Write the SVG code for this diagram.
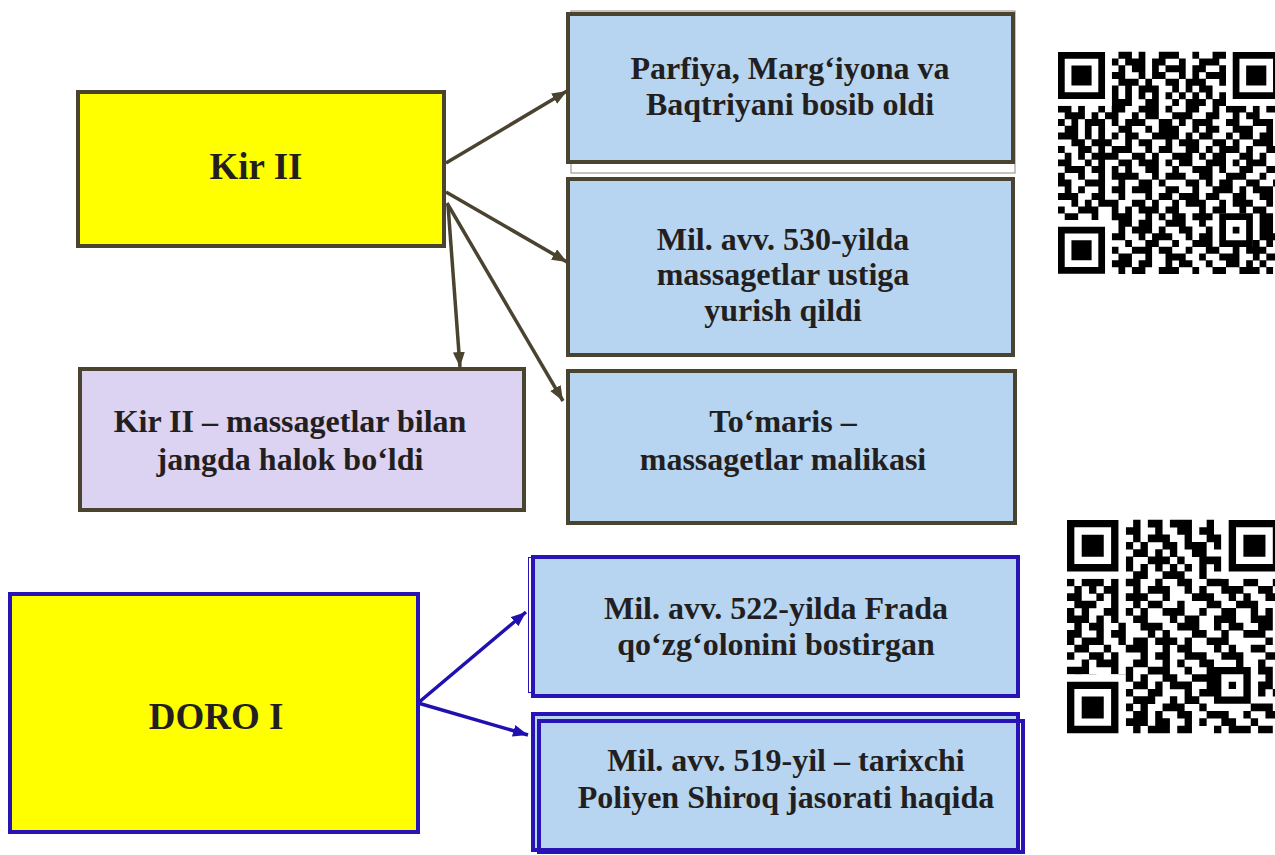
<svg xmlns="http://www.w3.org/2000/svg" width="1275" height="855" viewBox="0 0 1275 855">
<style>
.t{font-family:"Liberation Serif","Times New Roman",serif;font-weight:bold;fill:#231f20;text-anchor:middle}
.s{font-size:32px}
.big{font-size:37px}
.ob{stroke:#4a4330;stroke-width:4}
.bb{stroke:#2814b4;stroke-width:4;fill:none}
.ca{stroke:#4a4330;stroke-width:3.5;fill:none}
.cb{stroke:#2010b0;stroke-width:3.5;fill:none}
.qr{stroke:#000;stroke-width:1.04;fill:none}
</style>
<defs>
<marker id="ah" markerUnits="userSpaceOnUse" markerWidth="16" markerHeight="12" refX="15" refY="6" orient="auto"><path d="M0 0L15 6L0 12z" fill="#4a4330"/></marker>
<marker id="bh" markerUnits="userSpaceOnUse" markerWidth="16" markerHeight="12" refX="15" refY="6" orient="auto"><path d="M0 0L15 6L0 12z" fill="#2010b0"/></marker>
</defs>
<rect width="1275" height="855" fill="#fff"/>

<g id="connectors">
<path class="ca" marker-end="url(#ah)" d="M446 163L567 91"/>
<path class="ca" marker-end="url(#ah)" d="M446 192L567 262"/>
<path class="ca" marker-end="url(#ah)" d="M447 203L563 401"/>
<path class="ca" marker-end="url(#ah)" d="M448 205L460 367"/>
<path class="cb" marker-end="url(#bh)" d="M418 703L526 612"/>
<path class="cb" marker-end="url(#bh)" d="M418 703L528 735"/>
</g>

<g id="kir">
<rect class="ob" x="78" y="92" width="366" height="154" fill="#ffff00"/>
<text class="t big" x="256" y="179">Kir II</text>
</g>

<g id="parfiya">
<rect x="571" y="11" width="444" height="162" fill="none" stroke="#8c8878" stroke-width="1"/>
<rect class="ob" x="568" y="14" width="445" height="148" fill="#b7d5f0"/>
<text class="t s" x="790" y="79">Parfiya, Marg‘iyona va</text>
<text class="t s" x="790" y="115">Baqtriyani bosib oldi</text>
</g>

<g id="yurish">
<rect class="ob" x="568" y="179" width="445" height="176" fill="#b7d5f0"/>
<text class="t s" x="783" y="250">Mil. avv. 530-yilda</text>
<text class="t s" x="783" y="285">massagetlar ustiga</text>
<text class="t s" x="783" y="321">yurish qildi</text>
</g>

<g id="tomaris">
<rect class="ob" x="568" y="371" width="447" height="152" fill="#b7d5f0"/>
<text class="t s" x="783" y="432">To‘maris –</text>
<text class="t s" x="783" y="470">massagetlar malikasi</text>
</g>

<g id="halok">
<rect class="ob" x="80" y="369" width="444" height="141" fill="#dcd2f2"/>
<text class="t s" x="290" y="432">Kir II – massagetlar bilan</text>
<text class="t s" x="290" y="470">jangda halok bo‘ldi</text>
</g>

<g id="doro">
<rect x="10" y="594" width="408" height="238" fill="#ffff00" stroke="#2814b4" stroke-width="4"/>
<text class="t" style="font-size:37px" x="216" y="729">DORO I</text>
</g>

<g id="frada">
<rect x="528.5" y="557.5" width="486" height="135" fill="none" stroke="#2814b4" stroke-width="1"/>
<rect class="bb" x="533" y="557" width="485" height="139" style="fill:#b7d5f0"/>
<text class="t s" x="776" y="619">Mil. avv. 522-yilda Frada</text>
<text class="t s" x="776" y="655">qo‘zg‘olonini bostirgan</text>
</g>

<g id="shiroq">
<rect class="bb" x="533" y="714" width="485" height="136" style="fill:#b7d5f0"/>
<rect class="bb" x="539" y="721" width="484" height="131"/>
<text class="t s" x="786" y="771">Mil. avv. 519-yil – tarixchi</text>
<text class="t s" x="786" y="808">Poliyen Shiroq jasorati haqida</text>
</g>

<g id="qr1" transform="translate(1058 52) scale(6.72)">
<path class="qr" d="M9 0.5h2M12 0.5h1M15 0.5h3M20 0.5h1M23 0.5h2M8 1.5h1M10 1.5h3M14 1.5h2M18 1.5h1M21 1.5h3M9 2.5h1M11 2.5h2M14 2.5h1M16 2.5h3M20 2.5h2M24 2.5h1M8 3.5h2M12 3.5h1M14 3.5h2M18 3.5h1M20 3.5h1M22 3.5h3M9 4.5h3M13 4.5h1M16 4.5h2M19 4.5h3M24 4.5h1M8 5.5h1M10 5.5h1M12 5.5h3M17 5.5h1M19 5.5h1M21 5.5h2M8 6.5h1M10 6.5h1M12 6.5h1M14 6.5h1M16 6.5h1M18 6.5h1M20 6.5h1M22 6.5h1M24 6.5h1M8 7.5h3M13 7.5h2M17 7.5h1M19 7.5h3M23 7.5h2M0 8.5h2M3 8.5h1M6 8.5h1M8 8.5h2M12 8.5h3M16 8.5h1M19 8.5h2M23 8.5h1M25 8.5h3M29 8.5h1M31 8.5h2M1 9.5h3M5 9.5h1M7 9.5h2M11 9.5h1M13 9.5h2M17 9.5h3M22 9.5h2M26 9.5h1M28 9.5h2M0 10.5h1M2 10.5h1M4 10.5h3M8 10.5h1M10 10.5h3M15 10.5h2M18 10.5h1M20 10.5h3M25 10.5h2M29 10.5h3M1 11.5h2M4 11.5h1M6 11.5h1M9 11.5h2M13 11.5h1M15 11.5h3M20 11.5h1M22 11.5h2M26 11.5h3M31 11.5h1M0 12.5h3M4 12.5h1M6 12.5h1M8 12.5h1M10 12.5h2M14 12.5h4M19 12.5h1M21 12.5h2M25 12.5h1M27 12.5h2M30 12.5h2M2 13.5h2M5 13.5h3M10 13.5h1M12 13.5h2M16 13.5h1M18 13.5h3M23 13.5h2M26 13.5h1M29 13.5h3M0 14.5h1M3 14.5h2M6 14.5h1M8 14.5h3M13 14.5h1M15 14.5h2M19 14.5h2M22 14.5h1M24 14.5h3M28 14.5h1M31 14.5h2M1 15.5h1M3 15.5h1M5 15.5h4M11 15.5h2M14 15.5h1M17 15.5h3M21 15.5h1M23 15.5h2M27 15.5h2M30 15.5h1M0 16.5h2M4 16.5h1M6 16.5h1M9 16.5h2M12 16.5h3M16 16.5h1M18 16.5h2M22 16.5h3M26 16.5h1M28 16.5h3M1 17.5h3M5 17.5h2M8 17.5h1M10 17.5h1M13 17.5h2M17 17.5h1M20 17.5h3M24 17.5h1M27 17.5h2M31 17.5h2M0 18.5h1M3 18.5h1M6 18.5h1M8 18.5h4M14 18.5h1M16 18.5h3M21 18.5h2M25 18.5h3M30 18.5h1M0 19.5h2M4 19.5h3M9 19.5h1M12 19.5h2M15 19.5h1M19 19.5h2M22 19.5h1M24 19.5h2M28 19.5h2M32 19.5h1M1 20.5h1M3 20.5h1M6 20.5h1M8 20.5h2M11 20.5h3M16 20.5h2M20 20.5h1M23 20.5h3M27 20.5h1M29 20.5h3M0 21.5h3M5 21.5h2M9 21.5h1M13 21.5h1M15 21.5h2M18 21.5h3M22 21.5h2M26 21.5h2M30 21.5h2M2 22.5h1M4 22.5h1M6 22.5h3M11 22.5h2M14 22.5h1M17 22.5h1M19 22.5h3M24 22.5h1M26 22.5h3M31 22.5h1M0 23.5h1M3 23.5h3M8 23.5h1M10 23.5h1M12 23.5h3M16 23.5h2M21 23.5h1M23 23.5h2M27 23.5h1M29 23.5h2M1 24.5h2M5 24.5h1M8 24.5h3M13 24.5h1M15 24.5h1M17 24.5h2M20 24.5h3M30 24.5h2M9 25.5h2M12 25.5h2M16 25.5h3M21 25.5h1M30 25.5h2M9 26.5h1M11 26.5h3M15 26.5h1M18 26.5h2M22 26.5h1M30 26.5h2M8 27.5h2M12 27.5h1M14 27.5h3M19 27.5h1M21 27.5h2M30 27.5h3M10 28.5h1M13 28.5h2M17 28.5h1M20 28.5h3M29 28.5h1M31 28.5h1M8 29.5h1M11 29.5h3M15 29.5h2M19 29.5h1M22 29.5h2M26 29.5h1M28 29.5h3M9 30.5h2M13 30.5h1M16 30.5h3M21 30.5h1M24 30.5h3M29 30.5h1M31 30.5h2M8 31.5h3M12 31.5h2M16 31.5h1M18 31.5h2M22 31.5h1M25 31.5h2M28 31.5h1M30 31.5h1M9 32.5h1M11 32.5h2M15 32.5h3M20 32.5h1M23 32.5h2M27 32.5h3M31 32.5h1"/>
<path fill="#fff" d="M0 0h8v8h-8zM25 0h8v8h-8zM0 25h8v8h-8z"/>
<path fill="#000" fill-rule="evenodd" d="M0 0h7v7h-7zM1 1v5h5v-5zM2 2h3v3h-3zM26 0h7v7h-7zM27 1v5h5v-5zM28 2h3v3h-3zM0 26h7v7h-7zM1 27v5h5v-5zM2 28h3v3h-3zM24 24h5v5h-5zM25 25v3h3v-3zM26 26h1v1h-1z"/>
</g>

<g id="qr2" transform="translate(1067 520) scale(7.35)">
<path class="qr" d="M9 0.5h1M11 0.5h2M14 0.5h3M19 0.5h1M8 1.5h2M12 1.5h1M15 1.5h2M18 1.5h2M9 2.5h1M11 2.5h3M16 2.5h1M19 2.5h2M8 3.5h1M10 3.5h1M13 3.5h2M16 3.5h3M20 3.5h1M9 4.5h2M12 4.5h1M14 4.5h1M17 4.5h2M8 5.5h1M11 5.5h3M15 5.5h1M18 5.5h3M8 6.5h1M10 6.5h1M12 6.5h1M14 6.5h1M16 6.5h1M18 6.5h1M20 6.5h1M9 7.5h2M13 7.5h3M18 7.5h1M0 8.5h1M2 8.5h3M6 8.5h1M8 8.5h2M12 8.5h1M15 8.5h2M19 8.5h3M24 8.5h2M28 8.5h1M1 9.5h1M3 9.5h1M5 9.5h2M9 9.5h1M11 9.5h3M16 9.5h1M18 9.5h1M21 9.5h3M26 9.5h2M0 10.5h2M4 10.5h1M6 10.5h1M8 10.5h3M13 10.5h1M17 10.5h3M22 10.5h1M24 10.5h1M27 10.5h2M1 11.5h3M6 11.5h1M9 11.5h1M11 11.5h2M15 11.5h1M19 11.5h2M23 11.5h3M0 12.5h1M2 12.5h1M5 12.5h2M8 12.5h1M10 12.5h1M13 12.5h3M18 12.5h1M21 12.5h2M25 12.5h1M27 12.5h1M0 13.5h3M4 13.5h1M6 13.5h1M9 13.5h2M14 13.5h1M16 13.5h2M20 13.5h3M25 13.5h3M1 14.5h1M3 14.5h2M7 14.5h1M10 14.5h3M15 14.5h3M20 14.5h1M22 14.5h2M26 14.5h2M0 15.5h2M4 15.5h1M6 15.5h2M11 15.5h1M13 15.5h1M17 15.5h2M21 15.5h1M24 15.5h3M0 16.5h1M2 16.5h3M7 16.5h1M9 16.5h2M12 16.5h3M16 16.5h1M19 16.5h3M27 16.5h1M1 17.5h2M5 17.5h1M8 17.5h3M13 17.5h1M15 17.5h2M20 17.5h1M22 17.5h1M25 17.5h2M0 18.5h1M3 18.5h2M6 18.5h1M10 18.5h1M12 18.5h2M16 18.5h3M21 18.5h3M27 18.5h2M2 19.5h1M4 19.5h3M9 19.5h2M13 19.5h1M15 19.5h1M18 19.5h2M23 19.5h1M26 19.5h1M0 20.5h3M6 20.5h1M8 20.5h1M11 20.5h3M16 20.5h1M19 20.5h1M26 20.5h2M1 21.5h1M3 21.5h1M7 21.5h2M10 21.5h1M13 21.5h2M17 21.5h3M27 21.5h1M9 22.5h2M12 22.5h1M14 22.5h3M19 22.5h1M26 22.5h2M8 23.5h1M11 23.5h2M16 23.5h1M18 23.5h2M26 23.5h1M28 23.5h1M9 24.5h3M14 24.5h1M16 24.5h2M8 25.5h1M10 25.5h1M13 25.5h3M18 25.5h1M25 25.5h3M9 26.5h2M12 26.5h1M15 26.5h2M19 26.5h3M24 26.5h1M27 26.5h2M8 27.5h3M12 27.5h2M16 27.5h1M18 27.5h1M21 27.5h2M25 27.5h1M9 28.5h1M11 28.5h3M15 28.5h2M20 28.5h1M22 28.5h3M26 28.5h2"/>
<path fill="#fff" d="M0 0h8v8h-8zM21 0h8v8h-8zM0 21h8v8h-8z"/>
<path fill="#000" fill-rule="evenodd" d="M0 0h7v7h-7zM1 1v5h5v-5zM2 2h3v3h-3zM22 0h7v7h-7zM23 1v5h5v-5zM24 2h3v3h-3zM0 22h7v7h-7zM1 23v5h5v-5zM2 24h3v3h-3zM20 20h5v5h-5zM21 21v3h3v-3zM22 22h1v1h-1z"/>
</g>
</svg>
